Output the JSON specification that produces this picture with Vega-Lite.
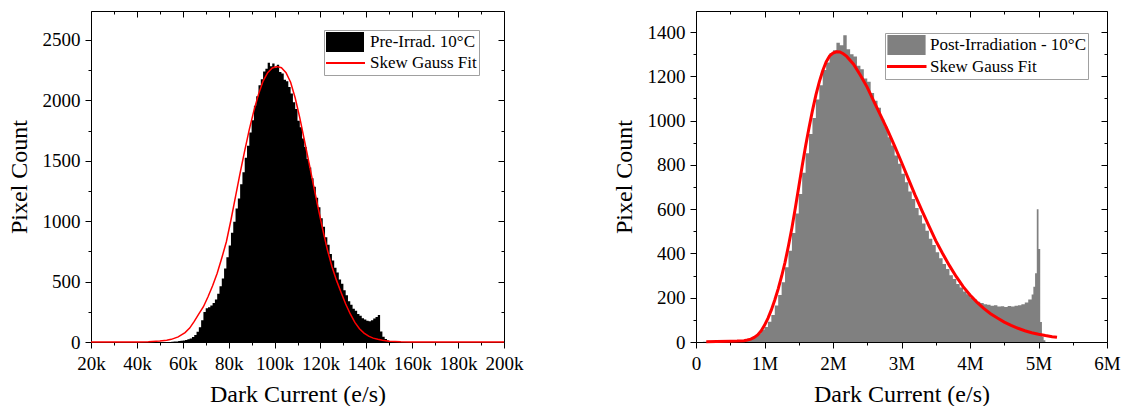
{
  "$schema": "https://vega.github.io/schema/vega-lite/v6.json",
  "background": "white",
  "padding": {"left": 7, "top": 10, "right": 0, "bottom": 0},
  "bounds": "flush",
  "spacing": 192,
  "resolve": {"scale": {"color": "independent"}, "legend": {"color": "independent"}},
  "datasets": {
    "preHist": [
      {"dc": 55000, "n": 3}, {"dc": 56000, "n": 5}, {"dc": 57000, "n": 4}, {"dc": 58000, "n": 8}, {"dc": 59000, "n": 10},
      {"dc": 60000, "n": 12}, {"dc": 61000, "n": 16}, {"dc": 62000, "n": 22}, {"dc": 63000, "n": 30}, {"dc": 64000, "n": 42},
      {"dc": 65000, "n": 58}, {"dc": 66000, "n": 85}, {"dc": 67000, "n": 122}, {"dc": 68000, "n": 180}, {"dc": 69000, "n": 248},
      {"dc": 70000, "n": 280}, {"dc": 71000, "n": 288}, {"dc": 72000, "n": 302}, {"dc": 73000, "n": 322}, {"dc": 74000, "n": 352},
      {"dc": 75000, "n": 400}, {"dc": 76000, "n": 462}, {"dc": 77000, "n": 525}, {"dc": 78000, "n": 608}, {"dc": 79000, "n": 702},
      {"dc": 80000, "n": 798}, {"dc": 81000, "n": 905}, {"dc": 82000, "n": 995}, {"dc": 83000, "n": 1105}, {"dc": 84000, "n": 1188},
      {"dc": 85000, "n": 1305}, {"dc": 86000, "n": 1405}, {"dc": 87000, "n": 1525}, {"dc": 88000, "n": 1625}, {"dc": 89000, "n": 1735},
      {"dc": 90000, "n": 1835}, {"dc": 91000, "n": 1955}, {"dc": 92000, "n": 2035}, {"dc": 93000, "n": 2125}, {"dc": 94000, "n": 2175},
      {"dc": 95000, "n": 2240}, {"dc": 96000, "n": 2262}, {"dc": 97000, "n": 2312}, {"dc": 98000, "n": 2282}, {"dc": 99000, "n": 2305},
      {"dc": 100000, "n": 2272}, {"dc": 101000, "n": 2295}, {"dc": 102000, "n": 2235}, {"dc": 103000, "n": 2222}, {"dc": 104000, "n": 2170},
      {"dc": 105000, "n": 2158}, {"dc": 106000, "n": 2110}, {"dc": 107000, "n": 2058}, {"dc": 108000, "n": 1985}, {"dc": 109000, "n": 1928},
      {"dc": 110000, "n": 1832}, {"dc": 111000, "n": 1778}, {"dc": 112000, "n": 1685}, {"dc": 113000, "n": 1615}, {"dc": 114000, "n": 1515},
      {"dc": 115000, "n": 1445}, {"dc": 116000, "n": 1355}, {"dc": 117000, "n": 1285}, {"dc": 118000, "n": 1195}, {"dc": 119000, "n": 1115},
      {"dc": 120000, "n": 1025}, {"dc": 121000, "n": 955}, {"dc": 122000, "n": 868}, {"dc": 123000, "n": 805}, {"dc": 124000, "n": 728},
      {"dc": 125000, "n": 675}, {"dc": 126000, "n": 615}, {"dc": 127000, "n": 575}, {"dc": 128000, "n": 518}, {"dc": 129000, "n": 482},
      {"dc": 130000, "n": 428}, {"dc": 131000, "n": 388}, {"dc": 132000, "n": 338}, {"dc": 133000, "n": 308}, {"dc": 134000, "n": 276},
      {"dc": 135000, "n": 258}, {"dc": 136000, "n": 232}, {"dc": 137000, "n": 218}, {"dc": 138000, "n": 196}, {"dc": 139000, "n": 186},
      {"dc": 140000, "n": 175}, {"dc": 141000, "n": 172}, {"dc": 142000, "n": 181}, {"dc": 143000, "n": 194}, {"dc": 144000, "n": 206},
      {"dc": 145000, "n": 224}, {"dc": 146000, "n": 86}, {"dc": 147000, "n": 44}, {"dc": 148000, "n": 24}, {"dc": 149000, "n": 12},
      {"dc": 150000, "n": 6}, {"dc": 151000, "n": 3}, {"dc": 152000, "n": 0}
    ],
    "preFit": [
      {"dc": 20000, "n": 0}, {"dc": 30000, "n": 0}, {"dc": 40000, "n": 1}, {"dc": 45000, "n": 3}, {"dc": 50000, "n": 8},
      {"dc": 53000, "n": 14}, {"dc": 55000, "n": 22}, {"dc": 58000, "n": 42}, {"dc": 61000, "n": 78}, {"dc": 63000, "n": 115},
      {"dc": 65000, "n": 170}, {"dc": 67000, "n": 232}, {"dc": 69000, "n": 292}, {"dc": 71000, "n": 375}, {"dc": 73000, "n": 465},
      {"dc": 75000, "n": 570}, {"dc": 77000, "n": 695}, {"dc": 79000, "n": 830}, {"dc": 81000, "n": 1010}, {"dc": 83000, "n": 1205},
      {"dc": 85000, "n": 1400}, {"dc": 87000, "n": 1585}, {"dc": 89000, "n": 1760}, {"dc": 91000, "n": 1915}, {"dc": 93000, "n": 2050},
      {"dc": 95000, "n": 2160}, {"dc": 97000, "n": 2230}, {"dc": 99000, "n": 2268}, {"dc": 101000, "n": 2280}, {"dc": 103000, "n": 2270},
      {"dc": 105000, "n": 2230}, {"dc": 107000, "n": 2150}, {"dc": 109000, "n": 2020}, {"dc": 111000, "n": 1855}, {"dc": 113000, "n": 1670},
      {"dc": 115000, "n": 1485}, {"dc": 117000, "n": 1295}, {"dc": 119000, "n": 1110}, {"dc": 121000, "n": 930}, {"dc": 123000, "n": 765},
      {"dc": 125000, "n": 625}, {"dc": 127000, "n": 510}, {"dc": 129000, "n": 410}, {"dc": 131000, "n": 315}, {"dc": 133000, "n": 232},
      {"dc": 135000, "n": 162}, {"dc": 137000, "n": 110}, {"dc": 139000, "n": 74}, {"dc": 141000, "n": 48}, {"dc": 143000, "n": 32},
      {"dc": 145000, "n": 22}, {"dc": 147000, "n": 14}, {"dc": 150000, "n": 7}, {"dc": 155000, "n": 2}, {"dc": 160000, "n": 0.5},
      {"dc": 170000, "n": 0}, {"dc": 200000, "n": 0}
    ],
    "postHist": [
      {"dc": 100000, "n": 1}, {"dc": 150000, "n": 2}, {"dc": 200000, "n": 3}, {"dc": 250000, "n": 4}, {"dc": 300000, "n": 3},
      {"dc": 350000, "n": 6}, {"dc": 400000, "n": 5}, {"dc": 450000, "n": 7}, {"dc": 500000, "n": 6}, {"dc": 550000, "n": 8},
      {"dc": 600000, "n": 9}, {"dc": 650000, "n": 8}, {"dc": 700000, "n": 10}, {"dc": 750000, "n": 12}, {"dc": 800000, "n": 17},
      {"dc": 850000, "n": 26}, {"dc": 900000, "n": 38}, {"dc": 950000, "n": 55}, {"dc": 1000000, "n": 68}, {"dc": 1050000, "n": 92},
      {"dc": 1100000, "n": 122}, {"dc": 1150000, "n": 165}, {"dc": 1200000, "n": 212}, {"dc": 1250000, "n": 270}, {"dc": 1300000, "n": 338},
      {"dc": 1350000, "n": 412}, {"dc": 1400000, "n": 492}, {"dc": 1450000, "n": 580}, {"dc": 1500000, "n": 668}, {"dc": 1550000, "n": 765},
      {"dc": 1600000, "n": 852}, {"dc": 1650000, "n": 940}, {"dc": 1700000, "n": 1012}, {"dc": 1750000, "n": 1095}, {"dc": 1800000, "n": 1160},
      {"dc": 1850000, "n": 1228}, {"dc": 1900000, "n": 1262}, {"dc": 1950000, "n": 1305}, {"dc": 2000000, "n": 1318}, {"dc": 2050000, "n": 1352},
      {"dc": 2100000, "n": 1340}, {"dc": 2150000, "n": 1385}, {"dc": 2200000, "n": 1322}, {"dc": 2250000, "n": 1300}, {"dc": 2300000, "n": 1290},
      {"dc": 2350000, "n": 1248}, {"dc": 2400000, "n": 1232}, {"dc": 2450000, "n": 1190}, {"dc": 2500000, "n": 1175}, {"dc": 2550000, "n": 1125},
      {"dc": 2600000, "n": 1090}, {"dc": 2650000, "n": 1058}, {"dc": 2700000, "n": 1005}, {"dc": 2750000, "n": 972}, {"dc": 2800000, "n": 925},
      {"dc": 2850000, "n": 888}, {"dc": 2900000, "n": 842}, {"dc": 2950000, "n": 805}, {"dc": 3000000, "n": 760}, {"dc": 3050000, "n": 722},
      {"dc": 3100000, "n": 680}, {"dc": 3150000, "n": 646}, {"dc": 3200000, "n": 605}, {"dc": 3250000, "n": 572}, {"dc": 3300000, "n": 535},
      {"dc": 3350000, "n": 502}, {"dc": 3400000, "n": 466}, {"dc": 3450000, "n": 438}, {"dc": 3500000, "n": 405}, {"dc": 3550000, "n": 378},
      {"dc": 3600000, "n": 352}, {"dc": 3650000, "n": 330}, {"dc": 3700000, "n": 302}, {"dc": 3750000, "n": 284}, {"dc": 3800000, "n": 262},
      {"dc": 3850000, "n": 246}, {"dc": 3900000, "n": 228}, {"dc": 3950000, "n": 216}, {"dc": 4000000, "n": 200}, {"dc": 4050000, "n": 192},
      {"dc": 4100000, "n": 182}, {"dc": 4150000, "n": 176}, {"dc": 4200000, "n": 170}, {"dc": 4250000, "n": 168}, {"dc": 4300000, "n": 164},
      {"dc": 4350000, "n": 166}, {"dc": 4400000, "n": 160}, {"dc": 4450000, "n": 162}, {"dc": 4500000, "n": 158}, {"dc": 4550000, "n": 163},
      {"dc": 4600000, "n": 160}, {"dc": 4650000, "n": 164}, {"dc": 4700000, "n": 166}, {"dc": 4750000, "n": 170}, {"dc": 4800000, "n": 178},
      {"dc": 4850000, "n": 192}, {"dc": 4900000, "n": 215}, {"dc": 4925000, "n": 250}, {"dc": 4950000, "n": 310}, {"dc": 4975000, "n": 600},
      {"dc": 5000000, "n": 420}, {"dc": 5025000, "n": 90}, {"dc": 5050000, "n": 25}, {"dc": 5075000, "n": 8}, {"dc": 5100000, "n": 0}
    ],
    "postFit": [
      {"dc": 150000, "n": 1}, {"dc": 300000, "n": 2}, {"dc": 500000, "n": 3}, {"dc": 600000, "n": 4}, {"dc": 700000, "n": 6},
      {"dc": 750000, "n": 9}, {"dc": 800000, "n": 13}, {"dc": 850000, "n": 21}, {"dc": 900000, "n": 32}, {"dc": 950000, "n": 50},
      {"dc": 1000000, "n": 75}, {"dc": 1050000, "n": 107}, {"dc": 1100000, "n": 145}, {"dc": 1150000, "n": 190}, {"dc": 1200000, "n": 240},
      {"dc": 1250000, "n": 297}, {"dc": 1300000, "n": 360}, {"dc": 1350000, "n": 435}, {"dc": 1400000, "n": 515}, {"dc": 1450000, "n": 605},
      {"dc": 1500000, "n": 700}, {"dc": 1550000, "n": 795}, {"dc": 1600000, "n": 885}, {"dc": 1650000, "n": 968}, {"dc": 1700000, "n": 1045},
      {"dc": 1750000, "n": 1115}, {"dc": 1800000, "n": 1175}, {"dc": 1850000, "n": 1225}, {"dc": 1900000, "n": 1265}, {"dc": 1950000, "n": 1292},
      {"dc": 2000000, "n": 1305}, {"dc": 2050000, "n": 1311}, {"dc": 2100000, "n": 1310}, {"dc": 2150000, "n": 1302}, {"dc": 2200000, "n": 1290},
      {"dc": 2300000, "n": 1255}, {"dc": 2400000, "n": 1205}, {"dc": 2500000, "n": 1150}, {"dc": 2600000, "n": 1085}, {"dc": 2700000, "n": 1020},
      {"dc": 2800000, "n": 955}, {"dc": 2900000, "n": 885}, {"dc": 3000000, "n": 812}, {"dc": 3100000, "n": 737}, {"dc": 3200000, "n": 662},
      {"dc": 3300000, "n": 592}, {"dc": 3400000, "n": 524}, {"dc": 3500000, "n": 458}, {"dc": 3600000, "n": 400}, {"dc": 3700000, "n": 345},
      {"dc": 3800000, "n": 295}, {"dc": 3900000, "n": 250}, {"dc": 4000000, "n": 212}, {"dc": 4100000, "n": 180}, {"dc": 4200000, "n": 152},
      {"dc": 4300000, "n": 128}, {"dc": 4400000, "n": 108}, {"dc": 4500000, "n": 90}, {"dc": 4600000, "n": 75}, {"dc": 4700000, "n": 62},
      {"dc": 4800000, "n": 51}, {"dc": 4900000, "n": 42}, {"dc": 5000000, "n": 35}, {"dc": 5100000, "n": 29}, {"dc": 5200000, "n": 24},
      {"dc": 5270000, "n": 21}
    ]
  },
  "hconcat": [
    {
      "width": 413,
      "height": 331,
      "resolve": {"axis": {"x": "independent", "y": "independent"}},
      "layer": [
        {
          "data": {"name": "preHist"},
          "mark": {"type": "area", "interpolate": "step-after"},
          "encoding": {
            "x": {"field": "dc", "type": "quantitative", "title": "Dark Current (e/s)",
              "scale": {"domain": [20000, 200000], "nice": false, "zero": false},
              "axis": {"orient": "bottom", "values": [20000, 30000, 40000, 50000, 60000, 70000, 80000, 90000, 100000, 110000, 120000, 130000, 140000, 150000, 160000, 170000, 180000, 190000, 200000],
                "labelExpr": "datum.value % 20000 === 0 ? (datum.value / 1000) + 'k' : ''",
                "tickSize": {"expr": "datum.value % 20000 === 0 ? 6 : 3"},
                "labelPadding": 6, "titlePadding": 9, "labelFlush": false, "labelBound": false, "labelOverlap": false}},
            "y": {"field": "n", "type": "quantitative", "title": "Pixel Count",
              "scale": {"domain": [0, 2740], "nice": false},
              "axis": {"orient": "left", "values": [0, 250, 500, 750, 1000, 1250, 1500, 1750, 2000, 2250, 2500],
                "format": "d", "labelExpr": "datum.value % 500 === 0 ? datum.label : ''",
                "tickSize": {"expr": "datum.value % 500 === 0 ? 6 : 3"},
                "labelPadding": 5, "titlePadding": 11, "labelOverlap": false, "labelFlush": false}},
            "color": {"datum": "Pre-Irrad. 10°C",
              "scale": {"domain": ["Pre-Irrad. 10°C", "Skew Gauss Fit"], "range": ["#000000", "#ff0000"]},
              "legend": {"orient": "none", "legendX": 233, "legendY": 19, "title": null, "symbolSize": 1600, "labelLimit": 300, "symbolOpacity": 1,
                "clipHeight": 20, "rowPadding": 1, "padding": 2, "symbolOffset": -2, "labelOffset": 4,
                "symbolType": {"expr": "datum.value === 'Skew Gauss Fit' ? 'stroke' : 'M-0.9,-0.45H0.9V0.45H-0.9Z'"},
                "symbolStrokeWidth": 2,
                "symbolStrokeColor": {"expr": "datum.value === 'Skew Gauss Fit' ? '#ff0000' : '#000000'"},
                "symbolFillColor": {"expr": "datum.value === 'Skew Gauss Fit' ? '#ff0000' : '#000000'"}}}
          }
        },
        {
          "data": {"name": "preFit"},
          "mark": {"type": "line", "strokeWidth": 1.5},
          "encoding": {
            "x": {"field": "dc", "type": "quantitative",
              "scale": {"domain": [20000, 200000], "nice": false, "zero": false},
              "axis": {"orient": "top", "title": null, "labels": false, "values": [20000, 30000, 40000, 50000, 60000, 70000, 80000, 90000, 100000, 110000, 120000, 130000, 140000, 150000, 160000, 170000, 180000, 190000, 200000],
                "tickSize": {"expr": "datum.value % 20000 === 0 ? -6 : -3"}}},
            "y": {"field": "n", "type": "quantitative",
              "scale": {"domain": [0, 2740], "nice": false},
              "axis": {"orient": "right", "title": null, "labels": false, "values": [0, 250, 500, 750, 1000, 1250, 1500, 1750, 2000, 2250, 2500],
                "tickSize": {"expr": "datum.value % 500 === 0 ? -6 : -3"}}},
            "color": {"datum": "Skew Gauss Fit",
              "scale": {"domain": ["Pre-Irrad. 10°C", "Skew Gauss Fit"], "range": ["#000000", "#ff0000"]}}
          }
        }
      ]
    },
    {
      "width": 411,
      "height": 331,
      "resolve": {"axis": {"x": "independent", "y": "independent"}},
      "layer": [
        {
          "data": {"name": "postHist"},
          "mark": {"type": "area", "interpolate": "step-after"},
          "encoding": {
            "x": {"field": "dc", "type": "quantitative", "title": "Dark Current (e/s)",
              "scale": {"domain": [0, 6000000], "nice": false, "zero": false},
              "axis": {"orient": "bottom", "values": [0, 500000, 1000000, 1500000, 2000000, 2500000, 3000000, 3500000, 4000000, 4500000, 5000000, 5500000, 6000000],
                "labelExpr": "datum.value % 1000000 === 0 ? (datum.value === 0 ? '0' : (datum.value / 1000000) + 'M') : ''",
                "tickSize": {"expr": "datum.value % 1000000 === 0 ? 6 : 3"},
                "labelPadding": 6, "titlePadding": 9, "labelFlush": false, "labelBound": false, "labelOverlap": false}},
            "y": {"field": "n", "type": "quantitative", "title": "Pixel Count",
              "scale": {"domain": [0, 1495], "nice": false},
              "axis": {"orient": "left", "values": [0, 100, 200, 300, 400, 500, 600, 700, 800, 900, 1000, 1100, 1200, 1300, 1400],
                "format": "d", "labelExpr": "datum.value % 200 === 0 ? datum.label : ''",
                "tickSize": {"expr": "datum.value % 200 === 0 ? 6 : 3"},
                "labelPadding": 5, "titlePadding": 11, "labelOverlap": false, "labelFlush": false}},
            "color": {"datum": "Post-Irradiation - 10°C",
              "scale": {"domain": ["Post-Irradiation - 10°C", "Skew Gauss Fit"], "range": ["#808080", "#ff0000"]},
              "legend": {"orient": "none", "legendX": 189, "legendY": 22, "title": null, "symbolSize": 1600, "labelLimit": 300, "symbolOpacity": 1,
                "clipHeight": 20, "rowPadding": 1.5, "padding": 2, "symbolOffset": -2, "labelOffset": 2,
                "symbolType": {"expr": "datum.value === 'Skew Gauss Fit' ? 'stroke' : 'M-0.88,-0.42H0.88V0.42H-0.88Z'"},
                "symbolStrokeWidth": 3,
                "symbolStrokeColor": {"expr": "datum.value === 'Skew Gauss Fit' ? '#ff0000' : '#808080'"},
                "symbolFillColor": {"expr": "datum.value === 'Skew Gauss Fit' ? '#ff0000' : '#808080'"}}}
          }
        },
        {
          "data": {"name": "postFit"},
          "mark": {"type": "line", "strokeWidth": 3},
          "encoding": {
            "x": {"field": "dc", "type": "quantitative",
              "scale": {"domain": [0, 6000000], "nice": false, "zero": false},
              "axis": {"orient": "top", "title": null, "labels": false, "values": [0, 500000, 1000000, 1500000, 2000000, 2500000, 3000000, 3500000, 4000000, 4500000, 5000000, 5500000, 6000000],
                "tickSize": {"expr": "datum.value % 1000000 === 0 ? -6 : -3"}}},
            "y": {"field": "n", "type": "quantitative",
              "scale": {"domain": [0, 1495], "nice": false},
              "axis": {"orient": "right", "title": null, "labels": false, "values": [0, 100, 200, 300, 400, 500, 600, 700, 800, 900, 1000, 1100, 1200, 1300, 1400],
                "tickSize": {"expr": "datum.value % 200 === 0 ? -6 : -3"}}},
            "color": {"datum": "Skew Gauss Fit",
              "scale": {"domain": ["Post-Irradiation - 10°C", "Skew Gauss Fit"], "range": ["#808080", "#ff0000"]}}
          }
        }
      ]
    }
  ],
  "config": {
    "font": "Liberation Serif",
    "view": {"stroke": null},
    "axis": {
      "labelFont": "Liberation Serif", "labelFontSize": 19, "labelColor": "#000000",
      "titleFont": "Liberation Serif", "titleFontSize": 24, "titleFontWeight": "normal", "titleColor": "#000000",
      "domainColor": "#000000", "domainWidth": 1, "tickColor": "#000000", "tickWidth": 1, "grid": false
    },
    "legend": {
      "labelFont": "Liberation Serif", "labelFontSize": 17, "labelColor": "#000000",
      "strokeColor": "#a0a0a0", "fillColor": "#ffffff"
    }
  }
}
